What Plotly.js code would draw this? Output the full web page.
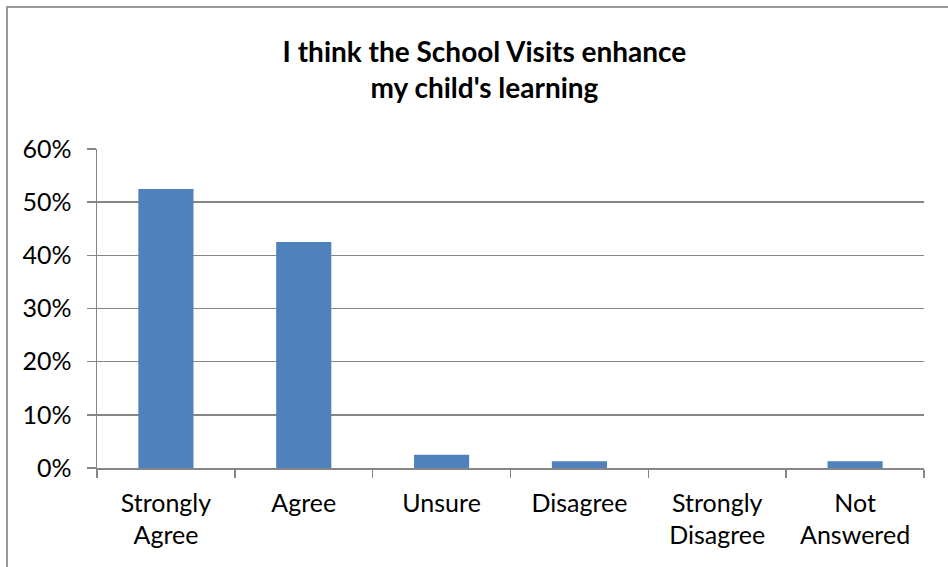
<!DOCTYPE html>
<html>
<head>
<meta charset="utf-8">
<script src="https://cdn.plot.ly/plotly-3.0.1.min.js"></script>
<style>
  html, body { margin: 0; padding: 0; background: #ffffff; }
  #chart { width: 948px; height: 567px; position: absolute; left: 0; top: 0; }
  #frame { position: absolute; left: 6px; top: 6px; width: 1000px; height: 600px;
           border-left: 2px solid #9a9a9a; border-top: 2px solid #9a9a9a; pointer-events: none; }
</style>
</head>
<body>
<div id="chart"></div>
<div id="frame"></div>
<script>
const categories = ["Strongly<br>Agree", "Agree", "Unsure", "Disagree", "Strongly<br>Disagree", "Not<br>Answered"];
const shares = [0.525, 0.425, 0.025, 0.0125, 0, 0.0125];
const titleText = "I think the School Visits enhance<br>my child's learning";

const fontFam = "Lato, 'Liberation Sans', Arial, sans-serif";

const data = [{
  type: "bar",
  x: categories,
  y: shares,
  marker: { color: "#4F81BD", line: { width: 0 } },
  hoverinfo: "x+y"
}];

const layout = {
  width: 948,
  height: 567,
  margin: { l: 97, r: 24, t: 149, b: 99 },
  paper_bgcolor: "rgba(0,0,0,0)",
  plot_bgcolor: "rgba(0,0,0,0)",
  showlegend: false,
  bargap: 0.6,
  font: { family: fontFam, size: 25, color: "#000000" },
  title: {
    text: titleText,
    font: { family: fontFam, size: 28, color: "#000000", weight: "bold" },
    xref: "container",
    x: 0.511,
    xanchor: "center",
    yref: "container",
    y: 0.891,
    yanchor: "top"
  },
  xaxis: {
    type: "category",
    showline: true,
    linecolor: "#868686",
    linewidth: 1.5,
    ticks: "outside",
    tickson: "boundaries",
    ticklen: 8,
    tickcolor: "#868686",
    tickwidth: 1.5,
    showgrid: false,
    tickfont: { family: fontFam, size: 25, color: "#000000" },
    ticklabelstandoff: 12,
    fixedrange: true
  },
  yaxis: {
    range: [0, 0.6],
    dtick: 0.1,
    tick0: 0,
    tickformat: ".0%",
    showline: true,
    linecolor: "#868686",
    linewidth: 1.5,
    ticks: "outside",
    ticklen: 9,
    tickcolor: "#868686",
    tickwidth: 1.5,
    showgrid: true,
    gridcolor: "#868686",
    gridwidth: 1.5,
    zeroline: false,
    tickfont: { family: fontFam, size: 25, color: "#000000" },
    ticklabelstandoff: 10,
    fixedrange: true
  }
};

Plotly.newPlot("chart", data, layout, { displayModeBar: false, staticPlot: true });
</script>
</body>
</html>
